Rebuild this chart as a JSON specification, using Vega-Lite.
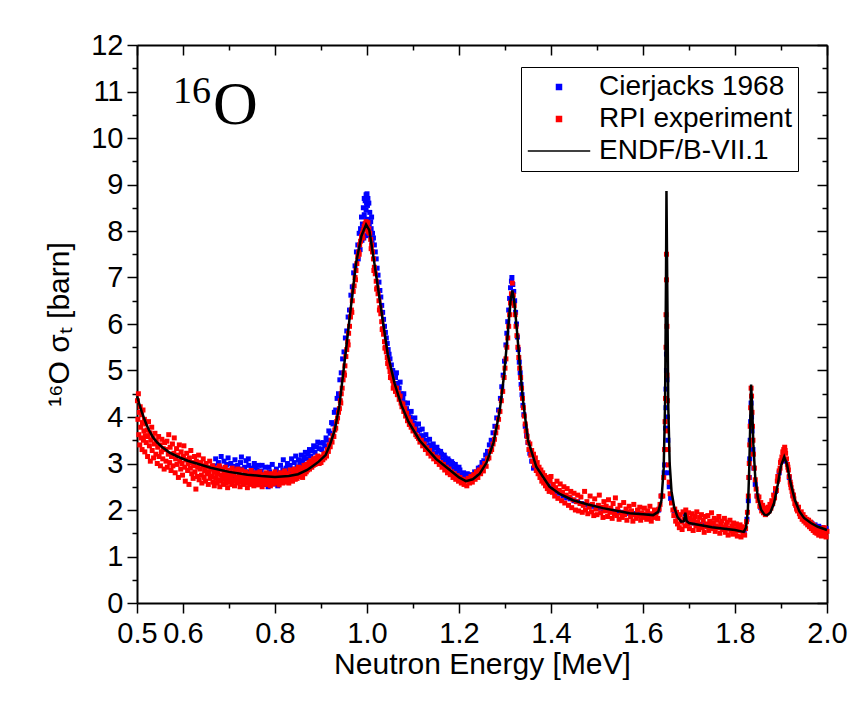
{
"$schema": "https://vega.github.io/schema/vega-lite/v6.json",
"width": 690, "height": 558,
"autosize": {"type": "none"},
"padding": {"left": 137, "top": 45, "right": 35, "bottom": 120},
"background": "white",
"config": {"view": {"stroke": null}, "font": "Liberation Sans"},
"datasets": {
"cierjacks": [
{"E":0.668,"xs":2.95},{"E":0.671,"xs":3.10},{"E":0.674,"xs":2.85},{"E":0.677,"xs":3.02},{"E":0.680,"xs":2.92},{"E":0.683,"xs":3.15},{"E":0.686,"xs":2.88},{"E":0.689,"xs":3.05},{"E":0.692,"xs":2.80},{"E":0.695,"xs":2.98},{"E":0.698,"xs":3.12},{"E":0.701,"xs":2.86},{"E":0.704,"xs":3.00},{"E":0.707,"xs":2.78},{"E":0.710,"xs":2.94},{"E":0.713,"xs":3.08},{"E":0.716,"xs":2.84},{"E":0.719,"xs":2.96},{"E":0.722,"xs":2.74},{"E":0.725,"xs":3.02},{"E":0.728,"xs":2.88},{"E":0.731,"xs":2.70},{"E":0.734,"xs":2.92},{"E":0.737,"xs":3.06},{"E":0.740,"xs":2.82},{"E":0.743,"xs":2.96},{"E":0.746,"xs":2.72},{"E":0.749,"xs":2.90},{"E":0.752,"xs":2.80},{"E":0.755,"xs":3.00},{"E":0.758,"xs":2.68},{"E":0.761,"xs":2.86},{"E":0.764,"xs":2.96},{"E":0.767,"xs":2.62},{"E":0.770,"xs":2.84},{"E":0.773,"xs":2.74},{"E":0.776,"xs":2.55},{"E":0.779,"xs":2.92},{"E":0.782,"xs":2.70},{"E":0.785,"xs":2.50},{"E":0.788,"xs":2.82},{"E":0.791,"xs":2.64},{"E":0.794,"xs":2.98},{"E":0.797,"xs":2.56},{"E":0.800,"xs":2.76},{"E":0.803,"xs":2.88},{"E":0.806,"xs":2.52},{"E":0.809,"xs":2.80},{"E":0.812,"xs":2.96},{"E":0.815,"xs":2.68},{"E":0.818,"xs":3.08},{"E":0.821,"xs":2.78},{"E":0.824,"xs":2.90},{"E":0.827,"xs":3.00},{"E":0.830,"xs":2.84},{"E":0.833,"xs":2.96},{"E":0.836,"xs":3.10},{"E":0.839,"xs":2.88},{"E":0.842,"xs":3.02},{"E":0.845,"xs":3.16},{"E":0.848,"xs":2.92},{"E":0.851,"xs":3.08},{"E":0.854,"xs":3.00},{"E":0.857,"xs":3.18},{"E":0.860,"xs":3.06},{"E":0.863,"xs":3.14},{"E":0.866,"xs":3.24},{"E":0.869,"xs":3.10},{"E":0.872,"xs":3.20},{"E":0.875,"xs":3.30},{"E":0.878,"xs":3.16},{"E":0.881,"xs":3.28},{"E":0.884,"xs":3.38},{"E":0.887,"xs":3.24},{"E":0.890,"xs":3.36},{"E":0.893,"xs":3.46},{"E":0.896,"xs":3.32},{"E":0.899,"xs":3.44},
{"E":0.697,"xs":2.72},{"E":0.712,"xs":2.68},{"E":0.727,"xs":3.14},{"E":0.742,"xs":3.10},{"E":0.757,"xs":2.92},{"E":0.772,"xs":2.96},{"E":0.787,"xs":2.92},{"E":0.802,"xs":2.66},{"E":0.817,"xs":2.86},{"E":0.832,"xs":2.72},{"E":0.847,"xs":2.84},
{"E":0.902,"xs":3.30},{"E":0.905,"xs":3.45},{"E":0.908,"xs":3.38},{"E":0.911,"xs":3.55},{"E":0.914,"xs":3.50},{"E":0.917,"xs":3.70},{"E":0.920,"xs":3.65},{"E":0.923,"xs":3.88},{"E":0.926,"xs":3.85},{"E":0.929,"xs":4.10},{"E":0.932,"xs":4.15},{"E":0.935,"xs":4.40},{"E":0.938,"xs":4.50},{"E":0.941,"xs":4.80},{"E":0.944,"xs":4.95},{"E":0.947,"xs":5.25},{"E":0.950,"xs":5.40},{"E":0.953,"xs":5.70},{"E":0.956,"xs":5.85},{"E":0.959,"xs":6.15},{"E":0.962,"xs":6.30},{"E":0.965,"xs":6.62},{"E":0.968,"xs":6.80},{"E":0.971,"xs":7.10},{"E":0.974,"xs":7.25},{"E":0.977,"xs":7.55},{"E":0.980,"xs":7.70},{"E":0.983,"xs":7.95},{"E":0.986,"xs":8.05},{"E":0.988,"xs":8.30},{"E":0.990,"xs":8.15},{"E":0.992,"xs":8.50},{"E":0.994,"xs":8.35},{"E":0.996,"xs":8.65},{"E":0.998,"xs":8.45},{"E":1.000,"xs":8.80},{"E":1.001,"xs":8.55},{"E":1.002,"xs":8.25},{"E":1.004,"xs":8.60},{"E":1.006,"xs":8.40},{"E":1.008,"xs":8.20},{"E":1.010,"xs":8.30},{"E":1.012,"xs":7.95},{"E":1.014,"xs":7.85},{"E":1.016,"xs":7.70},{"E":1.018,"xs":7.55},{"E":1.020,"xs":7.40},{"E":1.022,"xs":7.20},{"E":1.024,"xs":7.05},{"E":1.026,"xs":6.90},{"E":1.028,"xs":6.72},{"E":1.030,"xs":6.58},{"E":1.032,"xs":6.40},{"E":1.034,"xs":6.25},{"E":1.036,"xs":6.10},{"E":1.038,"xs":5.95},{"E":1.040,"xs":5.82},{"E":1.042,"xs":5.70},{"E":1.044,"xs":5.58},{"E":1.046,"xs":5.45},{"E":1.048,"xs":5.35},{"E":1.050,"xs":5.25},{"E":1.053,"xs":5.12},{"E":1.056,"xs":5.00},{"E":1.059,"xs":4.90},
{"E":0.991,"xs":7.95},{"E":0.995,"xs":8.10},{"E":0.997,"xs":7.90},{"E":0.999,"xs":8.25},{"E":1.003,"xs":7.95},{"E":1.005,"xs":8.15},{"E":1.007,"xs":7.90},{"E":0.989,"xs":7.80},{"E":0.993,"xs":7.85},{"E":0.985,"xs":7.60},{"E":0.981,"xs":7.40},{"E":1.011,"xs":7.75},{"E":1.009,"xs":8.05},{"E":0.994,"xs":8.70},{"E":1.002,"xs":8.70},{"E":0.998,"xs":8.78},{"E":0.999,"xs":8.60},
{"E":1.062,"xs":4.85},{"E":1.066,"xs":4.72},{"E":1.070,"xs":4.62},{"E":1.074,"xs":4.50},{"E":1.078,"xs":4.40},{"E":1.082,"xs":4.30},{"E":1.086,"xs":4.18},{"E":1.090,"xs":4.10},{"E":1.094,"xs":4.00},{"E":1.098,"xs":3.95},{"E":1.102,"xs":3.86},{"E":1.106,"xs":3.80},{"E":1.110,"xs":3.70},{"E":1.114,"xs":3.72},{"E":1.118,"xs":3.60},{"E":1.122,"xs":3.58},{"E":1.126,"xs":3.48},{"E":1.130,"xs":3.50},{"E":1.134,"xs":3.38},{"E":1.138,"xs":3.40},{"E":1.142,"xs":3.30},{"E":1.146,"xs":3.34},{"E":1.150,"xs":3.22},{"E":1.154,"xs":3.28},{"E":1.158,"xs":3.14},{"E":1.162,"xs":3.20},{"E":1.166,"xs":3.08},{"E":1.170,"xs":3.12},{"E":1.174,"xs":3.00},{"E":1.178,"xs":3.06},{"E":1.182,"xs":2.94},{"E":1.186,"xs":3.00},{"E":1.190,"xs":2.88},{"E":1.194,"xs":2.92},{"E":1.198,"xs":2.82},{"E":1.202,"xs":2.86},{"E":1.206,"xs":2.76},{"E":1.210,"xs":2.80},{"E":1.214,"xs":2.72},{"E":1.218,"xs":2.78},
{"E":1.064,"xs":4.95},{"E":1.072,"xs":4.75},{"E":1.080,"xs":4.50},{"E":1.088,"xs":4.30},{"E":1.096,"xs":4.12},{"E":1.104,"xs":3.98},{"E":1.112,"xs":3.85},{"E":1.120,"xs":3.74},{"E":1.128,"xs":3.62},{"E":1.136,"xs":3.52},{"E":1.144,"xs":3.42},{"E":1.152,"xs":3.35},{"E":1.160,"xs":3.26},{"E":1.168,"xs":3.18},{"E":1.176,"xs":3.10},{"E":1.184,"xs":3.04},{"E":1.192,"xs":2.98},{"E":1.200,"xs":2.92},
{"E":1.222,"xs":2.70},{"E":1.226,"xs":2.76},{"E":1.230,"xs":2.74},{"E":1.234,"xs":2.82},{"E":1.238,"xs":2.80},{"E":1.242,"xs":2.90},{"E":1.246,"xs":2.92},{"E":1.250,"xs":3.02},{"E":1.254,"xs":3.06},{"E":1.258,"xs":3.18},{"E":1.262,"xs":3.26},{"E":1.266,"xs":3.40},{"E":1.270,"xs":3.50},{"E":1.274,"xs":3.66},{"E":1.278,"xs":3.80},{"E":1.282,"xs":3.98},{"E":1.286,"xs":4.15},{"E":1.290,"xs":4.40},{"E":1.293,"xs":4.65},{"E":1.296,"xs":4.90},{"E":1.299,"xs":5.20},{"E":1.302,"xs":5.55},{"E":1.304,"xs":5.80},{"E":1.306,"xs":6.05},{"E":1.308,"xs":6.30},{"E":1.310,"xs":6.55},{"E":1.312,"xs":6.78},{"E":1.314,"xs":6.92},{"E":1.315,"xs":7.00},{"E":1.317,"xs":6.85},{"E":1.319,"xs":6.70},{"E":1.321,"xs":6.50},{"E":1.323,"xs":6.25},{"E":1.325,"xs":6.00},{"E":1.327,"xs":5.72},{"E":1.329,"xs":5.45},{"E":1.331,"xs":5.18},{"E":1.333,"xs":4.95},{"E":1.335,"xs":4.70},{"E":1.337,"xs":4.48},{"E":1.339,"xs":4.25},{"E":1.341,"xs":4.05},{"E":1.344,"xs":3.80},{"E":1.347,"xs":3.60},{"E":1.350,"xs":3.45},{"E":1.354,"xs":3.22},{"E":1.358,"xs":3.05},{"E":1.362,"xs":2.90},
{"E":1.370,"xs":2.88},{"E":1.378,"xs":2.74},{"E":1.386,"xs":2.62},{"E":1.394,"xs":2.52},{"E":1.402,"xs":2.46},{"E":1.410,"xs":2.40},{"E":1.418,"xs":2.36},{"E":1.426,"xs":2.30},{"E":1.434,"xs":2.26},{"E":1.442,"xs":2.24},{"E":1.450,"xs":2.20},{"E":1.458,"xs":2.18},{"E":1.466,"xs":2.14},{"E":1.474,"xs":2.12},{"E":1.482,"xs":2.10},{"E":1.490,"xs":2.08},{"E":1.498,"xs":2.06},{"E":1.506,"xs":2.04},{"E":1.514,"xs":2.02},{"E":1.522,"xs":2.00},{"E":1.530,"xs":1.99},{"E":1.538,"xs":1.97},{"E":1.546,"xs":1.96},{"E":1.554,"xs":1.95},{"E":1.562,"xs":1.94},{"E":1.570,"xs":1.93},{"E":1.578,"xs":1.92},{"E":1.586,"xs":1.92},{"E":1.594,"xs":1.91},{"E":1.602,"xs":1.90},{"E":1.610,"xs":1.90},{"E":1.618,"xs":1.89},{"E":1.626,"xs":1.92},{"E":1.634,"xs":2.00},{"E":1.640,"xs":2.30},
{"E":1.646,"xs":2.80},{"E":1.647,"xs":2.97},{"E":1.648,"xs":3.30},{"E":1.649,"xs":3.76},{"E":1.650,"xs":4.20},{"E":1.650,"xs":4.60},{"E":1.651,"xs":5.00},{"E":1.651,"xs":5.35},{"E":1.652,"xs":4.80},{"E":1.653,"xs":4.00},{"E":1.654,"xs":3.50},{"E":1.655,"xs":2.80},{"E":1.657,"xs":2.50},{"E":1.660,"xs":2.25},
{"E":1.668,"xs":1.98},{"E":1.676,"xs":1.84},{"E":1.684,"xs":1.76},{"E":1.692,"xs":1.92},{"E":1.700,"xs":1.74},{"E":1.708,"xs":1.72},{"E":1.716,"xs":1.70},{"E":1.724,"xs":1.69},{"E":1.732,"xs":1.68},{"E":1.740,"xs":1.66},{"E":1.748,"xs":1.65},{"E":1.756,"xs":1.64},{"E":1.764,"xs":1.63},{"E":1.772,"xs":1.62},{"E":1.780,"xs":1.61},{"E":1.788,"xs":1.60},{"E":1.796,"xs":1.58},{"E":1.804,"xs":1.57},{"E":1.812,"xs":1.56},{"E":1.820,"xs":1.56},
{"E":1.826,"xs":1.80},{"E":1.829,"xs":2.20},{"E":1.831,"xs":2.70},{"E":1.832,"xs":3.10},{"E":1.833,"xs":3.50},{"E":1.834,"xs":3.90},{"E":1.835,"xs":4.30},{"E":1.836,"xs":4.00},{"E":1.837,"xs":3.70},{"E":1.839,"xs":3.30},{"E":1.841,"xs":2.90},{"E":1.844,"xs":2.55},{"E":1.848,"xs":2.30},
{"E":1.856,"xs":2.05},{"E":1.864,"xs":1.95},{"E":1.872,"xs":1.98},{"E":1.880,"xs":2.12},{"E":1.888,"xs":2.40},{"E":1.896,"xs":2.80},{"E":1.904,"xs":3.10},{"E":1.910,"xs":3.05},{"E":1.918,"xs":2.70},{"E":1.926,"xs":2.32},{"E":1.934,"xs":2.06},{"E":1.942,"xs":1.92},{"E":1.950,"xs":1.84},{"E":1.958,"xs":1.76},{"E":1.966,"xs":1.72},{"E":1.974,"xs":1.68},{"E":1.982,"xs":1.65},{"E":1.990,"xs":1.62},{"E":1.998,"xs":1.60}
],
"rpi": [
{"E":0.501,"xs":4.35},{"E":0.502,"xs":3.95},{"E":0.503,"xs":4.50},{"E":0.504,"xs":3.62},{"E":0.505,"xs":4.10},{"E":0.506,"xs":3.40},{"E":0.507,"xs":4.22},{"E":0.508,"xs":3.78},{"E":0.509,"xs":3.55},{"E":0.510,"xs":4.05},{"E":0.511,"xs":3.30},{"E":0.512,"xs":3.88},{"E":0.513,"xs":4.15},{"E":0.514,"xs":3.50},{"E":0.515,"xs":3.70},{"E":0.516,"xs":3.95},{"E":0.517,"xs":3.25},{"E":0.518,"xs":3.60},{"E":0.519,"xs":3.85},{"E":0.520,"xs":3.45},{"E":0.522,"xs":3.72},{"E":0.523,"xs":3.15},{"E":0.524,"xs":3.58},{"E":0.525,"xs":3.90},{"E":0.527,"xs":3.38},{"E":0.528,"xs":3.66},{"E":0.529,"xs":3.05},{"E":0.530,"xs":3.50},{"E":0.532,"xs":3.78},{"E":0.533,"xs":3.28},{"E":0.535,"xs":3.55},{"E":0.536,"xs":3.12},{"E":0.538,"xs":3.42},{"E":0.539,"xs":3.65},{"E":0.541,"xs":3.20},{"E":0.542,"xs":3.48},{"E":0.544,"xs":3.00},{"E":0.545,"xs":3.35},{"E":0.547,"xs":3.58},{"E":0.548,"xs":3.15},{"E":0.550,"xs":3.40},{"E":0.551,"xs":2.95},{"E":0.553,"xs":3.25},{"E":0.554,"xs":3.52},{"E":0.556,"xs":3.10},{"E":0.557,"xs":3.32},{"E":0.559,"xs":2.88},{"E":0.560,"xs":3.45},
{"E":0.562,"xs":3.30},{"E":0.563,"xs":3.05},{"E":0.565,"xs":3.48},{"E":0.566,"xs":2.92},{"E":0.568,"xs":3.20},{"E":0.569,"xs":3.62},{"E":0.571,"xs":3.02},{"E":0.572,"xs":3.35},{"E":0.574,"xs":2.85},{"E":0.575,"xs":3.15},{"E":0.577,"xs":3.42},{"E":0.578,"xs":2.95},{"E":0.580,"xs":3.22},{"E":0.581,"xs":3.55},{"E":0.583,"xs":2.80},{"E":0.584,"xs":3.10},{"E":0.586,"xs":3.32},{"E":0.587,"xs":2.98},{"E":0.589,"xs":3.18},{"E":0.590,"xs":2.70},{"E":0.592,"xs":3.40},{"E":0.593,"xs":3.05},{"E":0.595,"xs":2.88},{"E":0.596,"xs":3.25},{"E":0.598,"xs":3.00},{"E":0.599,"xs":2.75},{"E":0.601,"xs":3.15},{"E":0.602,"xs":3.38},{"E":0.604,"xs":2.92},{"E":0.605,"xs":2.62},{"E":0.607,"xs":3.08},{"E":0.608,"xs":3.22},{"E":0.610,"xs":2.85},{"E":0.611,"xs":3.00},{"E":0.613,"xs":2.55},{"E":0.614,"xs":3.12},{"E":0.616,"xs":2.90},{"E":0.617,"xs":3.28},{"E":0.619,"xs":2.78},{"E":0.620,"xs":3.02},{"E":0.622,"xs":2.68},{"E":0.623,"xs":2.95},{"E":0.625,"xs":3.15},{"E":0.626,"xs":2.82},{"E":0.628,"xs":2.45},{"E":0.629,"xs":3.05},{"E":0.631,"xs":2.72},{"E":0.632,"xs":2.92},{"E":0.634,"xs":3.18},{"E":0.635,"xs":2.65},{"E":0.637,"xs":2.88},{"E":0.638,"xs":3.02},{"E":0.640,"xs":2.75},{"E":0.641,"xs":2.58},{"E":0.643,"xs":2.95},{"E":0.644,"xs":3.10},{"E":0.646,"xs":2.70},{"E":0.647,"xs":2.85},{"E":0.649,"xs":2.62},{"E":0.650,"xs":3.00},{"E":0.652,"xs":2.78},{"E":0.653,"xs":2.92},{"E":0.655,"xs":2.55},{"E":0.656,"xs":2.82},{"E":0.658,"xs":3.05},{"E":0.659,"xs":2.68},{"E":0.661,"xs":2.88},
{"E":0.662,"xs":2.72},{"E":0.664,"xs":2.95},{"E":0.665,"xs":2.60},{"E":0.667,"xs":2.82},{"E":0.668,"xs":2.52},{"E":0.670,"xs":2.90},{"E":0.671,"xs":2.68},{"E":0.673,"xs":2.78},{"E":0.674,"xs":2.58},{"E":0.676,"xs":2.85},{"E":0.677,"xs":2.65},{"E":0.679,"xs":2.95},{"E":0.680,"xs":2.50},{"E":0.682,"xs":2.75},{"E":0.683,"xs":2.62},{"E":0.685,"xs":2.88},{"E":0.686,"xs":2.70},{"E":0.688,"xs":2.55},{"E":0.689,"xs":2.80},{"E":0.691,"xs":2.66},{"E":0.692,"xs":2.92},{"E":0.694,"xs":2.58},{"E":0.695,"xs":2.75},{"E":0.697,"xs":2.48},{"E":0.698,"xs":2.85},{"E":0.700,"xs":2.68},{"E":0.701,"xs":2.60},{"E":0.703,"xs":2.80},{"E":0.704,"xs":2.72},{"E":0.706,"xs":2.55},{"E":0.707,"xs":2.90},{"E":0.709,"xs":2.65},{"E":0.710,"xs":2.76},{"E":0.712,"xs":2.52},{"E":0.713,"xs":2.84},{"E":0.715,"xs":2.62},{"E":0.716,"xs":2.70},{"E":0.718,"xs":2.58},{"E":0.719,"xs":2.88},{"E":0.721,"xs":2.66},{"E":0.722,"xs":2.78},{"E":0.724,"xs":2.50},{"E":0.725,"xs":2.72},{"E":0.727,"xs":2.60},{"E":0.728,"xs":2.86},{"E":0.730,"xs":2.68},{"E":0.731,"xs":2.55},{"E":0.733,"xs":2.75},{"E":0.734,"xs":2.64},{"E":0.736,"xs":2.82},{"E":0.737,"xs":2.58},{"E":0.739,"xs":2.70},{"E":0.740,"xs":2.48},{"E":0.742,"xs":2.78},{"E":0.743,"xs":2.62},{"E":0.745,"xs":2.72},{"E":0.746,"xs":2.55},{"E":0.748,"xs":2.85},{"E":0.749,"xs":2.66},{"E":0.751,"xs":2.60},{"E":0.752,"xs":2.76},{"E":0.754,"xs":2.52},{"E":0.755,"xs":2.70},{"E":0.757,"xs":2.63},{"E":0.758,"xs":2.80},{"E":0.760,"xs":2.58},{"E":0.761,"xs":2.68},{"E":0.763,"xs":2.74},{"E":0.764,"xs":2.54},{"E":0.766,"xs":2.66},{"E":0.767,"xs":2.82},{"E":0.769,"xs":2.60},{"E":0.770,"xs":2.70},{"E":0.772,"xs":2.50},{"E":0.773,"xs":2.76},{"E":0.775,"xs":2.64},{"E":0.776,"xs":2.58},{"E":0.778,"xs":2.72},{"E":0.779,"xs":2.62},{"E":0.781,"xs":2.80},{"E":0.782,"xs":2.55},{"E":0.784,"xs":2.68},{"E":0.785,"xs":2.74},{"E":0.787,"xs":2.58},{"E":0.788,"xs":2.66},{"E":0.790,"xs":2.52},{"E":0.791,"xs":2.78},{"E":0.793,"xs":2.62},{"E":0.794,"xs":2.70},{"E":0.796,"xs":2.56},{"E":0.797,"xs":2.74},{"E":0.799,"xs":2.64},{"E":0.800,"xs":2.82},{"E":0.802,"xs":2.58},{"E":0.803,"xs":2.68},{"E":0.805,"xs":2.76},{"E":0.806,"xs":2.60},{"E":0.808,"xs":2.66},{"E":0.809,"xs":2.54},{"E":0.811,"xs":2.72},{"E":0.812,"xs":2.80},{"E":0.814,"xs":2.62},{"E":0.815,"xs":2.68},{"E":0.817,"xs":2.58},{"E":0.818,"xs":2.76},{"E":0.820,"xs":2.66},{"E":0.821,"xs":2.84},{"E":0.823,"xs":2.60},{"E":0.824,"xs":2.72},{"E":0.826,"xs":2.64},{"E":0.827,"xs":2.78},{"E":0.829,"xs":2.68},{"E":0.830,"xs":2.58},{"E":0.832,"xs":2.74},{"E":0.833,"xs":2.86},{"E":0.835,"xs":2.66},{"E":0.836,"xs":2.72},{"E":0.838,"xs":2.62},{"E":0.839,"xs":2.80},{"E":0.841,"xs":2.70},{"E":0.842,"xs":2.88},{"E":0.844,"xs":2.66},{"E":0.845,"xs":2.76},{"E":0.847,"xs":2.84},{"E":0.848,"xs":2.68},{"E":0.850,"xs":2.78},{"E":0.851,"xs":2.92},{"E":0.853,"xs":2.72},{"E":0.854,"xs":2.82},{"E":0.856,"xs":2.76},{"E":0.857,"xs":2.90},{"E":0.859,"xs":2.80},{"E":0.860,"xs":2.70},{"E":0.862,"xs":2.86},{"E":0.863,"xs":2.96},{"E":0.865,"xs":2.78},{"E":0.866,"xs":2.88},{"E":0.868,"xs":2.82},{"E":0.869,"xs":2.98},{"E":0.871,"xs":2.86},{"E":0.872,"xs":2.92},{"E":0.874,"xs":3.02},{"E":0.875,"xs":2.88},{"E":0.877,"xs":2.96},{"E":0.878,"xs":3.06},{"E":0.880,"xs":2.92},{"E":0.881,"xs":3.00},{"E":0.883,"xs":2.96},{"E":0.884,"xs":3.10},{"E":0.886,"xs":3.02},{"E":0.887,"xs":2.98},{"E":0.889,"xs":3.12},{"E":0.890,"xs":3.06},{"E":0.892,"xs":3.04},{"E":0.893,"xs":3.16},{"E":0.895,"xs":3.08},{"E":0.896,"xs":3.00},
{"E":0.898,"xs":3.10},{"E":0.900,"xs":3.02},{"E":0.902,"xs":3.14},{"E":0.904,"xs":3.08},{"E":0.906,"xs":3.20},{"E":0.908,"xs":3.12},{"E":0.910,"xs":3.22},{"E":0.912,"xs":3.16},{"E":0.914,"xs":3.30},{"E":0.916,"xs":3.26},{"E":0.918,"xs":3.40},{"E":0.920,"xs":3.36},{"E":0.922,"xs":3.50},{"E":0.924,"xs":3.46},{"E":0.926,"xs":3.60},{"E":0.928,"xs":3.58},{"E":0.930,"xs":3.72},{"E":0.932,"xs":3.76},{"E":0.934,"xs":3.90},{"E":0.936,"xs":3.98},{"E":0.938,"xs":4.10},{"E":0.940,"xs":4.18},{"E":0.942,"xs":4.35},{"E":0.944,"xs":4.50},{"E":0.946,"xs":4.62},{"E":0.948,"xs":4.80},{"E":0.950,"xs":4.95},{"E":0.952,"xs":5.10},{"E":0.954,"xs":5.30},{"E":0.956,"xs":5.45},{"E":0.958,"xs":5.62},{"E":0.960,"xs":5.80},{"E":0.962,"xs":5.95},{"E":0.964,"xs":6.15},{"E":0.966,"xs":6.30},{"E":0.968,"xs":6.50},{"E":0.970,"xs":6.70},{"E":0.972,"xs":6.82},{"E":0.974,"xs":7.00},{"E":0.976,"xs":7.15},{"E":0.978,"xs":7.30},{"E":0.980,"xs":7.45},{"E":0.982,"xs":7.55},{"E":0.984,"xs":7.70},{"E":0.986,"xs":7.78},{"E":0.988,"xs":7.88},{"E":0.990,"xs":7.95},{"E":0.992,"xs":8.02},{"E":0.994,"xs":8.10},{"E":0.996,"xs":8.16},{"E":0.998,"xs":8.20},{"E":1.000,"xs":8.12},{"E":1.002,"xs":8.18},{"E":1.004,"xs":8.05},{"E":1.006,"xs":7.95},{"E":1.008,"xs":7.82},{"E":1.010,"xs":7.70},{"E":1.012,"xs":7.55},{"E":1.014,"xs":7.40},{"E":1.016,"xs":7.22},{"E":1.018,"xs":7.08},{"E":1.020,"xs":6.92},{"E":1.022,"xs":6.78},{"E":1.024,"xs":6.65},{"E":1.026,"xs":6.50},{"E":1.028,"xs":6.35},{"E":1.030,"xs":6.22},{"E":1.032,"xs":6.05},{"E":1.034,"xs":5.90},{"E":1.036,"xs":5.78},{"E":1.038,"xs":5.62},{"E":1.040,"xs":5.50},{"E":1.042,"xs":5.40},{"E":1.044,"xs":5.28},{"E":1.046,"xs":5.18},{"E":1.048,"xs":5.08},{"E":1.050,"xs":4.98},{"E":1.052,"xs":4.92},{"E":1.054,"xs":4.84},{"E":1.056,"xs":4.78},{"E":1.058,"xs":4.70},{"E":1.060,"xs":4.64},
{"E":0.943,"xs":4.30},{"E":0.951,"xs":4.90},{"E":0.959,"xs":5.55},{"E":0.967,"xs":6.25},{"E":0.975,"xs":6.95},{"E":0.983,"xs":7.50},{"E":0.991,"xs":7.85},{"E":0.997,"xs":8.05},{"E":1.003,"xs":7.98},{"E":1.009,"xs":7.62},{"E":1.015,"xs":7.15},{"E":1.021,"xs":6.75},{"E":1.027,"xs":6.30},{"E":1.033,"xs":5.88},{"E":1.039,"xs":5.48},{"E":1.045,"xs":5.15},{"E":1.051,"xs":4.85},{"E":1.057,"xs":4.62},
{"E":1.062,"xs":4.55},{"E":1.064,"xs":4.62},{"E":1.066,"xs":4.48},{"E":1.068,"xs":4.52},{"E":1.070,"xs":4.38},{"E":1.072,"xs":4.45},{"E":1.074,"xs":4.30},{"E":1.076,"xs":4.22},{"E":1.078,"xs":4.28},{"E":1.080,"xs":4.12},{"E":1.082,"xs":4.18},{"E":1.084,"xs":4.02},{"E":1.086,"xs":4.08},{"E":1.088,"xs":3.92},{"E":1.090,"xs":3.98},{"E":1.092,"xs":3.84},{"E":1.094,"xs":3.90},{"E":1.096,"xs":3.78},{"E":1.098,"xs":3.82},{"E":1.100,"xs":3.70},{"E":1.103,"xs":3.74},{"E":1.106,"xs":3.62},{"E":1.109,"xs":3.58},{"E":1.112,"xs":3.54},{"E":1.115,"xs":3.46},{"E":1.118,"xs":3.50},{"E":1.121,"xs":3.38},{"E":1.124,"xs":3.42},{"E":1.127,"xs":3.30},{"E":1.130,"xs":3.34},{"E":1.133,"xs":3.22},{"E":1.136,"xs":3.28},{"E":1.139,"xs":3.16},{"E":1.142,"xs":3.20},{"E":1.145,"xs":3.10},{"E":1.148,"xs":3.14},{"E":1.151,"xs":3.04},{"E":1.154,"xs":3.12},{"E":1.157,"xs":2.98},{"E":1.160,"xs":3.02},{"E":1.163,"xs":2.92},{"E":1.166,"xs":2.98},{"E":1.169,"xs":2.86},{"E":1.172,"xs":2.92},{"E":1.175,"xs":2.80},{"E":1.178,"xs":2.88},{"E":1.181,"xs":2.76},{"E":1.184,"xs":2.82},{"E":1.187,"xs":2.70},{"E":1.190,"xs":2.78},{"E":1.193,"xs":2.66},{"E":1.196,"xs":2.74},{"E":1.199,"xs":2.62},{"E":1.202,"xs":2.70},{"E":1.205,"xs":2.58},{"E":1.208,"xs":2.66},{"E":1.211,"xs":2.55},{"E":1.214,"xs":2.64},{"E":1.217,"xs":2.52},{"E":1.220,"xs":2.68},{"E":1.223,"xs":2.58},{"E":1.226,"xs":2.72},{"E":1.229,"xs":2.60},{"E":1.232,"xs":2.76},{"E":1.235,"xs":2.66},{"E":1.238,"xs":2.82},{"E":1.241,"xs":2.70},{"E":1.244,"xs":2.86},{"E":1.247,"xs":2.78},{"E":1.250,"xs":2.92},{"E":1.253,"xs":2.84},{"E":1.256,"xs":3.00},{"E":1.259,"xs":2.94},{"E":1.262,"xs":3.10},{"E":1.265,"xs":3.12},{"E":1.268,"xs":3.26},{"E":1.271,"xs":3.30},{"E":1.274,"xs":3.42},{"E":1.277,"xs":3.52},{"E":1.280,"xs":3.66},{"E":1.283,"xs":3.78},{"E":1.286,"xs":3.95},{"E":1.289,"xs":4.12},{"E":1.292,"xs":4.35},{"E":1.295,"xs":4.55},{"E":1.298,"xs":4.85},{"E":1.300,"xs":5.05},{"E":1.302,"xs":5.25},{"E":1.304,"xs":5.50},{"E":1.306,"xs":5.70},{"E":1.308,"xs":5.95},{"E":1.310,"xs":6.20},{"E":1.312,"xs":6.45},{"E":1.314,"xs":6.65},{"E":1.316,"xs":6.88},{"E":1.318,"xs":6.62},{"E":1.320,"xs":6.40},{"E":1.322,"xs":6.20},{"E":1.324,"xs":5.95},{"E":1.326,"xs":5.75},{"E":1.328,"xs":5.50},{"E":1.330,"xs":5.28},{"E":1.332,"xs":5.05},{"E":1.334,"xs":4.85},{"E":1.336,"xs":4.62},{"E":1.338,"xs":4.40},{"E":1.340,"xs":4.20},{"E":1.342,"xs":4.02},{"E":1.344,"xs":3.85},{"E":1.346,"xs":3.70},{"E":1.348,"xs":3.58},{"E":1.350,"xs":3.46},
{"E":1.352,"xs":3.30},{"E":1.354,"xs":3.42},{"E":1.356,"xs":3.18},{"E":1.358,"xs":3.28},{"E":1.360,"xs":3.05},{"E":1.362,"xs":3.20},{"E":1.364,"xs":2.96},{"E":1.366,"xs":3.12},{"E":1.368,"xs":2.85},{"E":1.370,"xs":3.02},{"E":1.372,"xs":2.78},{"E":1.374,"xs":2.92},{"E":1.376,"xs":2.70},{"E":1.378,"xs":2.86},{"E":1.380,"xs":2.62},{"E":1.382,"xs":2.80},{"E":1.384,"xs":2.58},{"E":1.386,"xs":2.74},{"E":1.388,"xs":2.52},{"E":1.390,"xs":2.70},{"E":1.392,"xs":2.46},{"E":1.394,"xs":2.66},{"E":1.396,"xs":2.40},{"E":1.398,"xs":2.62},{"E":1.400,"xs":2.72},{"E":1.403,"xs":2.38},{"E":1.405,"xs":2.55},{"E":1.408,"xs":2.30},{"E":1.410,"xs":2.48},{"E":1.413,"xs":2.62},{"E":1.415,"xs":2.25},{"E":1.418,"xs":2.42},{"E":1.420,"xs":2.56},{"E":1.423,"xs":2.20},{"E":1.425,"xs":2.38},{"E":1.428,"xs":2.50},{"E":1.430,"xs":2.15},{"E":1.433,"xs":2.32},{"E":1.435,"xs":2.46},{"E":1.438,"xs":2.10},{"E":1.440,"xs":2.28},{"E":1.443,"xs":2.40},{"E":1.445,"xs":2.05},{"E":1.448,"xs":2.22},{"E":1.450,"xs":2.36},{"E":1.453,"xs":2.00},{"E":1.455,"xs":2.18},{"E":1.458,"xs":2.32},{"E":1.460,"xs":1.98},{"E":1.463,"xs":2.14},{"E":1.465,"xs":2.28},{"E":1.468,"xs":1.95},{"E":1.470,"xs":2.10},{"E":1.473,"xs":2.40},{"E":1.475,"xs":2.00},{"E":1.478,"xs":2.18},{"E":1.480,"xs":1.92},{"E":1.483,"xs":2.06},{"E":1.485,"xs":2.30},{"E":1.488,"xs":1.96},{"E":1.490,"xs":2.12},{"E":1.493,"xs":1.88},{"E":1.495,"xs":2.24},{"E":1.498,"xs":2.02},{"E":1.500,"xs":1.90},{"E":1.503,"xs":2.10},{"E":1.505,"xs":2.32},{"E":1.508,"xs":1.94},{"E":1.510,"xs":2.06},{"E":1.513,"xs":1.84},{"E":1.515,"xs":2.18},{"E":1.518,"xs":1.98},{"E":1.520,"xs":2.08},{"E":1.523,"xs":1.86},{"E":1.525,"xs":2.22},{"E":1.528,"xs":1.95},{"E":1.530,"xs":2.04},{"E":1.533,"xs":1.82},{"E":1.535,"xs":2.14},{"E":1.538,"xs":1.92},{"E":1.540,"xs":2.26},{"E":1.543,"xs":1.88},{"E":1.545,"xs":2.02},{"E":1.548,"xs":1.80},{"E":1.550,"xs":2.10},{"E":1.553,"xs":1.94},{"E":1.555,"xs":1.84},{"E":1.558,"xs":2.16},{"E":1.560,"xs":1.90},{"E":1.563,"xs":2.02},{"E":1.565,"xs":1.78},{"E":1.568,"xs":1.96},{"E":1.570,"xs":2.08},{"E":1.573,"xs":1.86},{"E":1.575,"xs":1.98},{"E":1.578,"xs":1.76},{"E":1.580,"xs":2.12},{"E":1.583,"xs":1.90},{"E":1.585,"xs":1.82},{"E":1.588,"xs":2.00},{"E":1.590,"xs":1.88},{"E":1.593,"xs":2.06},{"E":1.595,"xs":1.78},{"E":1.598,"xs":1.94},{"E":1.600,"xs":1.84},{"E":1.603,"xs":2.04},{"E":1.605,"xs":1.90},{"E":1.608,"xs":1.80},{"E":1.610,"xs":1.98},{"E":1.613,"xs":1.86},{"E":1.615,"xs":2.08},{"E":1.618,"xs":1.76},{"E":1.620,"xs":1.92},{"E":1.623,"xs":1.84},{"E":1.625,"xs":2.00},{"E":1.628,"xs":1.88},{"E":1.630,"xs":1.96},{"E":1.632,"xs":1.82},{"E":1.635,"xs":2.02},{"E":1.637,"xs":2.12},{"E":1.639,"xs":2.30},
{"E":1.643,"xs":2.30},{"E":1.645,"xs":2.70},{"E":1.647,"xs":3.30},{"E":1.648,"xs":3.90},{"E":1.649,"xs":4.40},{"E":1.650,"xs":5.50},{"E":1.650,"xs":6.20},{"E":1.651,"xs":7.50},{"E":1.651,"xs":6.95},{"E":1.652,"xs":5.95},{"E":1.652,"xs":4.90},{"E":1.653,"xs":4.35},{"E":1.653,"xs":3.70},{"E":1.654,"xs":3.30},{"E":1.655,"xs":2.97},{"E":1.657,"xs":2.60},{"E":1.659,"xs":2.35},{"E":1.662,"xs":2.15},{"E":1.665,"xs":2.00},
{"E":1.667,"xs":1.88},{"E":1.669,"xs":2.02},{"E":1.671,"xs":1.76},{"E":1.673,"xs":1.95},{"E":1.675,"xs":1.70},{"E":1.677,"xs":1.86},{"E":1.679,"xs":1.62},{"E":1.681,"xs":1.90},{"E":1.683,"xs":1.74},{"E":1.685,"xs":1.58},{"E":1.687,"xs":1.96},{"E":1.689,"xs":1.80},{"E":1.691,"xs":1.66},{"E":1.693,"xs":2.00},{"E":1.695,"xs":1.84},{"E":1.697,"xs":1.70},{"E":1.699,"xs":1.94},{"E":1.701,"xs":1.60},{"E":1.703,"xs":1.82},{"E":1.705,"xs":1.72},{"E":1.707,"xs":1.92},{"E":1.709,"xs":1.56},{"E":1.711,"xs":1.78},{"E":1.713,"xs":1.86},{"E":1.715,"xs":1.66},{"E":1.717,"xs":1.96},{"E":1.719,"xs":1.74},{"E":1.721,"xs":1.58},{"E":1.723,"xs":1.84},{"E":1.725,"xs":1.68},{"E":1.727,"xs":1.90},{"E":1.729,"xs":1.62},{"E":1.731,"xs":1.78},{"E":1.733,"xs":1.52},{"E":1.735,"xs":1.86},{"E":1.737,"xs":1.70},{"E":1.739,"xs":1.64},{"E":1.741,"xs":1.88},{"E":1.743,"xs":1.56},{"E":1.745,"xs":1.76},{"E":1.747,"xs":1.68},{"E":1.749,"xs":1.94},{"E":1.751,"xs":1.60},{"E":1.753,"xs":1.72},{"E":1.755,"xs":1.82},{"E":1.757,"xs":1.54},{"E":1.759,"xs":1.66},{"E":1.761,"xs":1.78},{"E":1.763,"xs":1.62},{"E":1.765,"xs":1.86},{"E":1.767,"xs":1.50},{"E":1.769,"xs":1.70},{"E":1.771,"xs":1.76},{"E":1.773,"xs":1.58},{"E":1.775,"xs":1.64},{"E":1.777,"xs":1.82},{"E":1.779,"xs":1.52},{"E":1.781,"xs":1.68},{"E":1.783,"xs":1.74},{"E":1.785,"xs":1.46},{"E":1.787,"xs":1.60},{"E":1.789,"xs":1.78},{"E":1.791,"xs":1.56},{"E":1.793,"xs":1.66},{"E":1.795,"xs":1.48},{"E":1.797,"xs":1.72},{"E":1.799,"xs":1.60},{"E":1.801,"xs":1.54},{"E":1.803,"xs":1.70},{"E":1.805,"xs":1.44},{"E":1.807,"xs":1.62},{"E":1.809,"xs":1.56},{"E":1.811,"xs":1.68},{"E":1.813,"xs":1.42},{"E":1.815,"xs":1.58},{"E":1.817,"xs":1.50},{"E":1.819,"xs":1.64},{"E":1.821,"xs":1.46},
{"E":1.823,"xs":1.60},{"E":1.825,"xs":1.75},{"E":1.827,"xs":1.95},{"E":1.829,"xs":2.30},{"E":1.830,"xs":2.70},{"E":1.831,"xs":3.00},{"E":1.832,"xs":3.40},{"E":1.833,"xs":3.80},{"E":1.834,"xs":4.20},{"E":1.835,"xs":4.62},{"E":1.836,"xs":4.45},{"E":1.837,"xs":4.10},{"E":1.838,"xs":3.80},{"E":1.839,"xs":3.50},{"E":1.840,"xs":3.20},{"E":1.842,"xs":2.90},{"E":1.844,"xs":2.65},{"E":1.846,"xs":2.45},{"E":1.848,"xs":2.30},{"E":1.850,"xs":2.20},{"E":1.852,"xs":2.28},{"E":1.854,"xs":2.08},{"E":1.856,"xs":2.16},{"E":1.858,"xs":1.98},{"E":1.860,"xs":2.10},{"E":1.862,"xs":1.94},{"E":1.864,"xs":2.04},{"E":1.866,"xs":1.90},{"E":1.868,"xs":2.00},{"E":1.870,"xs":1.94},{"E":1.872,"xs":2.06},{"E":1.874,"xs":1.98},{"E":1.876,"xs":2.12},{"E":1.878,"xs":2.04},{"E":1.880,"xs":2.20},{"E":1.882,"xs":2.14},{"E":1.884,"xs":2.32},{"E":1.886,"xs":2.26},{"E":1.888,"xs":2.46},{"E":1.890,"xs":2.42},{"E":1.892,"xs":2.62},{"E":1.894,"xs":2.66},{"E":1.896,"xs":2.84},{"E":1.898,"xs":2.90},{"E":1.900,"xs":3.06},{"E":1.902,"xs":3.14},{"E":1.904,"xs":3.25},{"E":1.906,"xs":3.30},{"E":1.908,"xs":3.35},{"E":1.910,"xs":3.22},{"E":1.912,"xs":3.10},{"E":1.914,"xs":2.98},{"E":1.916,"xs":2.86},{"E":1.918,"xs":2.72},{"E":1.920,"xs":2.60},{"E":1.922,"xs":2.48},{"E":1.924,"xs":2.40},{"E":1.926,"xs":2.30},{"E":1.928,"xs":2.24},{"E":1.930,"xs":2.14},{"E":1.932,"xs":2.10},{"E":1.934,"xs":2.02},{"E":1.936,"xs":1.98},{"E":1.938,"xs":2.06},{"E":1.940,"xs":1.92},{"E":1.942,"xs":1.86},{"E":1.944,"xs":1.96},{"E":1.946,"xs":1.80},{"E":1.948,"xs":1.90},{"E":1.950,"xs":1.76},{"E":1.952,"xs":1.84},{"E":1.954,"xs":1.72},{"E":1.956,"xs":1.80},{"E":1.958,"xs":1.68},{"E":1.960,"xs":1.78},{"E":1.962,"xs":1.64},{"E":1.964,"xs":1.74},{"E":1.966,"xs":1.60},{"E":1.968,"xs":1.70},{"E":1.970,"xs":1.56},{"E":1.972,"xs":1.66},{"E":1.974,"xs":1.52},{"E":1.976,"xs":1.62},{"E":1.978,"xs":1.50},{"E":1.980,"xs":1.58},{"E":1.982,"xs":1.46},{"E":1.984,"xs":1.60},{"E":1.986,"xs":1.52},{"E":1.988,"xs":1.44},{"E":1.990,"xs":1.56},{"E":1.992,"xs":1.48},{"E":1.994,"xs":1.62},{"E":1.996,"xs":1.50},{"E":1.998,"xs":1.42},{"E":2.000,"xs":1.54},
{"E":1.893,"xs":2.72},{"E":1.899,"xs":3.02},{"E":1.905,"xs":3.20},{"E":1.909,"xs":3.28},{"E":1.915,"xs":2.92},{"E":1.921,"xs":2.55},{"E":1.927,"xs":2.32},{"E":1.933,"xs":2.12}
],
"endf": [
{"E":0.500,"xs":4.45},{"E":0.505,"xs":4.28},{"E":0.510,"xs":4.12},{"E":0.515,"xs":3.98},{"E":0.520,"xs":3.85},{"E":0.526,"xs":3.72},{"E":0.535,"xs":3.56},{"E":0.545,"xs":3.44},{"E":0.555,"xs":3.35},{"E":0.570,"xs":3.24},{"E":0.590,"xs":3.14},{"E":0.610,"xs":3.06},{"E":0.630,"xs":3.00},{"E":0.660,"xs":2.91},{"E":0.700,"xs":2.82},{"E":0.740,"xs":2.76},{"E":0.770,"xs":2.73},{"E":0.800,"xs":2.71},{"E":0.830,"xs":2.73},{"E":0.850,"xs":2.77},{"E":0.870,"xs":2.86},{"E":0.880,"xs":2.93},{"E":0.895,"xs":3.04},{"E":0.910,"xs":3.18},{"E":0.920,"xs":3.42},{"E":0.930,"xs":3.72},{"E":0.940,"xs":4.25},{"E":0.946,"xs":4.75},{"E":0.955,"xs":5.50},{"E":0.965,"xs":6.37},{"E":0.976,"xs":7.30},{"E":0.988,"xs":7.90},{"E":0.998,"xs":8.14},{"E":1.005,"xs":8.02},{"E":1.016,"xs":7.31},{"E":1.030,"xs":6.37},{"E":1.045,"xs":5.35},{"E":1.060,"xs":4.72},{"E":1.075,"xs":4.25},{"E":1.090,"xs":3.90},{"E":1.114,"xs":3.50},{"E":1.150,"xs":3.10},{"E":1.180,"xs":2.86},{"E":1.200,"xs":2.70},{"E":1.215,"xs":2.62},{"E":1.230,"xs":2.66},{"E":1.245,"xs":2.78},{"E":1.260,"xs":3.02},{"E":1.275,"xs":3.45},{"E":1.288,"xs":4.10},{"E":1.298,"xs":4.90},{"E":1.306,"xs":5.80},{"E":1.312,"xs":6.50},{"E":1.316,"xs":6.72},{"E":1.320,"xs":6.50},{"E":1.326,"xs":5.85},{"E":1.332,"xs":5.15},{"E":1.339,"xs":4.37},{"E":1.350,"xs":3.50},{"E":1.368,"xs":2.93},{"E":1.397,"xs":2.50},{"E":1.420,"xs":2.34},{"E":1.448,"xs":2.21},{"E":1.480,"xs":2.12},{"E":1.513,"xs":2.04},{"E":1.545,"xs":1.98},{"E":1.571,"xs":1.93},{"E":1.600,"xs":1.91},{"E":1.622,"xs":1.89},{"E":1.633,"xs":1.96},{"E":1.640,"xs":2.20},{"E":1.645,"xs":2.90},{"E":1.648,"xs":4.30},{"E":1.650,"xs":7.00},{"E":1.651,"xs":8.86},{"E":1.653,"xs":6.50},{"E":1.655,"xs":4.20},{"E":1.658,"xs":3.00},{"E":1.662,"xs":2.40},{"E":1.668,"xs":2.05},{"E":1.675,"xs":1.85},{"E":1.683,"xs":1.75},{"E":1.689,"xs":1.76},{"E":1.692,"xs":1.94},{"E":1.695,"xs":1.76},{"E":1.700,"xs":1.72},{"E":1.750,"xs":1.63},{"E":1.800,"xs":1.57},{"E":1.819,"xs":1.53},{"E":1.824,"xs":1.62},{"E":1.828,"xs":2.00},{"E":1.831,"xs":2.90},{"E":1.833,"xs":3.80},{"E":1.835,"xs":4.70},{"E":1.837,"xs":4.30},{"E":1.840,"xs":3.40},{"E":1.844,"xs":2.70},{"E":1.850,"xs":2.25},{"E":1.857,"xs":2.00},{"E":1.864,"xs":1.90},{"E":1.870,"xs":1.89},{"E":1.877,"xs":1.95},{"E":1.885,"xs":2.15},{"E":1.893,"xs":2.55},{"E":1.900,"xs":2.95},{"E":1.907,"xs":3.14},{"E":1.913,"xs":2.98},{"E":1.920,"xs":2.62},{"E":1.930,"xs":2.22},{"E":1.940,"xs":1.97},{"E":1.950,"xs":1.83},{"E":1.965,"xs":1.72},{"E":1.980,"xs":1.64},{"E":2.000,"xs":1.57}
]
},
"resolve": {"axis": {"x": "independent", "y": "independent"}},
"layer": [
{
"data": {"name": "cierjacks"},
"mark": {"type": "point", "filled": true, "opacity": 1, "strokeWidth": 0, "size": 3900},
"encoding": {
"x": {"field": "E", "type": "quantitative", "scale": {"domain": [0.5, 2.0], "nice": false, "zero": false},
 "axis": {"orient": "bottom", "values": [0.5,0.6,0.7,0.8,0.9,1.0,1.1,1.2,1.3,1.4,1.5,1.6,1.7,1.8,1.9,2.0],
  "labelExpr": "(datum.value < 0.55 || round(datum.value*10) % 2 == 0) ? format(datum.value, '.1f') : ''",
  "tickSize": {"condition": {"test": "datum.value > 0.55 && round(datum.value*10) % 2 == 1", "value": 5}, "value": 10},
  "tickWidth": 1.5, "tickColor": "black", "domainColor": "black", "domainWidth": 2,
  "labelFontSize": 29, "labelColor": "black", "labelPadding": 6, "labelFlush": false, "labelOverlap": false, "labelBound": false,
  "title": "Neutron Energy [MeV]", "titleFontSize": 30, "titleFontWeight": "normal", "titleColor": "black", "titlePadding": 1, "grid": false}},
"y": {"field": "xs", "type": "quantitative", "scale": {"domain": [0, 12], "nice": false, "zero": false},
 "axis": {"orient": "left", "values": [0,0.5,1,1.5,2,2.5,3,3.5,4,4.5,5,5.5,6,6.5,7,7.5,8,8.5,9,9.5,10,10.5,11,11.5,12],
  "labelExpr": "datum.value % 1 == 0 ? format(datum.value, 'd') : ''",
  "tickSize": {"condition": {"test": "datum.value % 1 != 0", "value": 5}, "value": 10},
  "tickWidth": 1.5, "tickColor": "black", "domainColor": "black", "domainWidth": 2,
  "labelFontSize": 29, "labelColor": "black", "labelPadding": 4, "labelOverlap": false, "labelBound": false,
  "title": "¹⁶O σₜ [barn]", "titleFontSize": 30, "titleFontWeight": "normal", "titleColor": "black", "titlePadding": 16, "grid": false}},
"color": {"datum": "Cierjacks 1968", "type": "nominal",
 "scale": {"domain": ["Cierjacks 1968", "RPI experiment", "ENDF/B-VII.1"], "range": ["#0000ff", "#ff0000", "#000000"]},
 "legend": {"title": null, "orient": "none", "legendX": 384, "legendY": 22, "strokeColor": "black", "fillColor": "white", "padding": 6, "rowPadding": 4, "clipHeight": 28, "labelFontSize": 28, "labelColor": "black", "labelLimit": 400, "labelOffset": 8, "symbolStrokeWidth": 1.5, "symbolSize": 3900}},
"shape": {"datum": "Cierjacks 1968", "type": "nominal",
 "scale": {"domain": ["Cierjacks 1968", "RPI experiment", "ENDF/B-VII.1"], "range": ["M-0.08,-0.08H0.08V0.08H-0.08Z", "M-0.08,-0.08H0.08V0.08H-0.08Z", "stroke"]},
 "legend": {"title": null, "orient": "none", "legendX": 384, "legendY": 22, "strokeColor": "black", "fillColor": "white", "padding": 6, "rowPadding": 4, "clipHeight": 28, "labelFontSize": 28, "labelColor": "black", "labelLimit": 400, "labelOffset": 8, "symbolStrokeWidth": 1.5, "symbolSize": 3900}}
}
},
{
"data": {"name": "rpi"},
"mark": {"type": "point", "filled": true, "opacity": 1, "strokeWidth": 0, "size": 3900},
"encoding": {
"x": {"field": "E", "type": "quantitative",
 "axis": {"orient": "top", "values": [0.5,0.6,0.7,0.8,0.9,1.0,1.1,1.2,1.3,1.4,1.5,1.6,1.7,1.8,1.9,2.0], "labels": false,
  "tickSize": {"condition": {"test": "datum.value > 0.55 && round(datum.value*10) % 2 == 1", "value": -5}, "value": -10},
  "tickWidth": 1.5, "tickColor": "black", "domainColor": "black", "domainWidth": 2, "title": null, "grid": false}},
"y": {"field": "xs", "type": "quantitative",
 "axis": {"orient": "right", "values": [0,0.5,1,1.5,2,2.5,3,3.5,4,4.5,5,5.5,6,6.5,7,7.5,8,8.5,9,9.5,10,10.5,11,11.5,12], "labels": false,
  "tickSize": {"condition": {"test": "datum.value % 1 != 0", "value": -5}, "value": -10},
  "tickWidth": 1.5, "tickColor": "black", "domainColor": "black", "domainWidth": 2, "title": null, "grid": false}},
"color": {"datum": "RPI experiment", "type": "nominal"},
"shape": {"datum": "RPI experiment", "type": "nominal"}
}
},
{
"data": {"name": "endf"},
"mark": {"type": "line", "strokeWidth": 2.5},
"encoding": {
"x": {"field": "E", "type": "quantitative", "axis": null},
"y": {"field": "xs", "type": "quantitative", "axis": null},
"color": {"datum": "ENDF/B-VII.1", "type": "nominal"}
}
},
{
"data": {"values": [{}]},
"mark": {"type": "text", "text": "16", "font": "Liberation Serif", "fontSize": 38, "align": "left", "baseline": "alphabetic", "color": "black"},
"encoding": {
"x": {"datum": 0.578, "type": "quantitative", "axis": null},
"y": {"datum": 10.75, "type": "quantitative", "axis": null}
}
},
{
"data": {"values": [{}]},
"mark": {"type": "text", "text": "O", "font": "Liberation Serif", "fontSize": 62, "align": "left", "baseline": "alphabetic", "color": "black"},
"encoding": {
"x": {"datum": 0.665, "type": "quantitative", "axis": null},
"y": {"datum": 10.30, "type": "quantitative", "axis": null}
}
}
]
}
